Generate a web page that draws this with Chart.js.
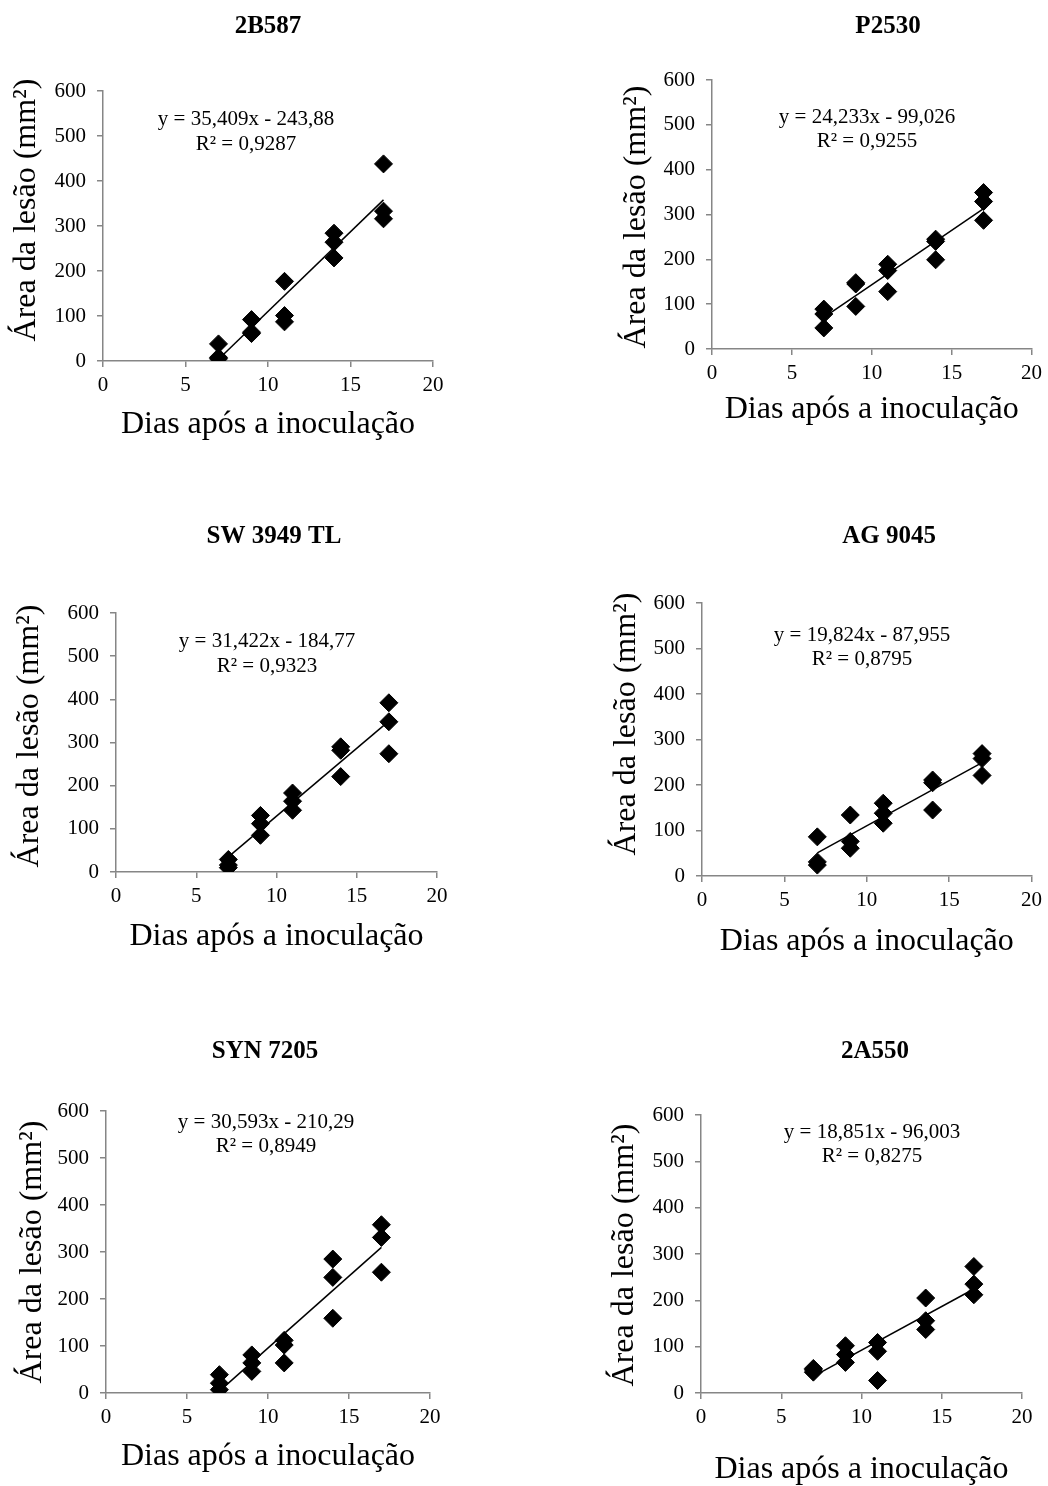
<!DOCTYPE html>
<html lang="pt-BR">
<head>
<meta charset="utf-8">
<title>Área da lesão x dias após a inoculação</title>
<script src="https://cdn.jsdelivr.net/npm/chart.js@4.4.1/dist/chart.umd.min.js"></script>
<style>
  html, body { margin: 0; padding: 0; background: #fff; }
  #wrap { position: relative; width: 1048px; height: 1486px; }
  #wrap canvas { position: absolute; }
</style>
</head>
<body>
<div id="wrap"></div>
<script>
// Dados (3 repetições por data)
const days = [7, 7, 7, 9, 9, 9, 11, 11, 11, 14, 14, 14, 17, 17, 17]
const area2B587 = [38, 8, 5, 92, 64, 61, 177, 101, 87, 284, 264, 229, 438, 333, 316]
const areaP2530 = [89, 78, 47, 148, 145, 95, 189, 175, 128, 245, 240, 199, 349, 329, 287]
const areaSW3949 = [29, 16, 10, 131, 112, 85, 183, 164, 143, 290, 282, 221, 392, 348, 274]
const areaAG9045 = [86, 31, 24, 134, 76, 61, 160, 138, 116, 211, 205, 145, 269, 258, 221]
const areaSYN7205 = [39, 21, 7, 81, 64, 46, 112, 102, 64, 285, 246, 159, 358, 331, 257]
const area2A550 = [53, 50, 45, 102, 83, 66, 109, 90, 27, 205, 156, 137, 273, 235, 212]

const cultivars = ["2B587", "P2530", "SW 3949 TL", "AG 9045", "SYN 7205", "2A550"]
const series = [area2B587, areaP2530, areaSW3949, areaAG9045, areaSYN7205, area2A550]

// Equações das retas de tendência
const slopes = [35.409, 24.233, 31.422, 19.824, 30.593, 18.851]
const intercepts = [-243.88, -99.026, -184.77, -87.955, -210.29, -96.003]
const equationLabels = [
  "y = 35,409x - 243,88",
  "y = 24,233x - 99,026",
  "y = 31,422x - 184,77",
  "y = 19,824x - 87,955",
  "y = 30,593x - 210,29",
  "y = 18,851x - 96,003",
]
const r2Labels = ["R² = 0,9287", "R² = 0,9255", "R² = 0,9323", "R² = 0,8795", "R² = 0,8949", "R² = 0,8275"]

const xTicks = [0, 5, 10, 15, 20]
const yTicks = [0, 100, 200, 300, 400, 500, 600]
const xTitle = "Dias após a inoculação"
const yTitle = "Área da lesão (mm²)"

// Posição de cada painel na página
const panels = [
  { box: [0, 0, 524, 500], area: [103, 91, 433, 361], yTitle: [27, 210], xTitleY: 425, title: [268, 27], eq: [246, 119, 144] },
  { box: [524, 0, 524, 500], area: [712, 80, 1037, 349], yTitle: [637, 217], xTitleY: 410, title: [888, 27], eq: [867, 117, 141] },
  { box: [0, 500, 524, 500], area: [116, 613, 437, 872], yTitle: [30, 736], xTitleY: 937, title: [274, 537], eq: [267, 641, 666] },
  { box: [524, 500, 524, 500], area: [702, 603, 1033, 876], yTitle: [627, 724], xTitleY: 942, title: [889, 537], eq: [862, 635, 659] },
  { box: [0, 1000, 524, 486], area: [106, 1111, 430, 1393], yTitle: [33, 1252], xTitleY: 1457, title: [265, 1052], eq: [266, 1122, 1146] },
  { box: [524, 1000, 524, 486], area: [701, 1115, 1022, 1393], yTitle: [625, 1255], xTitleY: 1470, title: [875, 1052], eq: [872, 1132, 1156] },
]

const SERIF = "'Liberation Serif', 'Times New Roman', serif"
const AXIS_COLOR = "#868686"
const AXIS_TITLE_SIZE = 32

Chart.defaults.font.family = SERIF
Chart.defaults.color = "#000"

const charts = []

document.addEventListener("DOMContentLoaded", () => {
  panels.forEach((p, i) => createPanel(i))
})

function createPanel(i) {
  const p = panels[i]
  const [cx, cy, cw, ch] = p.box
  const [L, T, R, B] = p.area

  const canvas = document.createElement("canvas")
  canvas.width = cw
  canvas.height = ch
  canvas.style.left = cx + "px"
  canvas.style.top = cy + "px"
  canvas.style.width = cw + "px"
  canvas.style.height = ch + "px"
  document.getElementById("wrap").appendChild(canvas)

  // medidas para posicionar a área do gráfico
  const half = AXIS_TITLE_SIZE / 2
  const padLeft = p.yTitle[0] - cx - half
  const yWidth = L - cx - padLeft
  const xHeight = p.xTitleY - B + half
  const padBottom = Math.max(cy + ch - B - xHeight, 0)

  const points = days.map((d, k) => ({ x: d, y: series[i][k] }))
  const xMin = Math.min(...days)
  const xMax = Math.max(...days)
  const trend = [xMin, xMax].map((d) => ({ x: d, y: slopes[i] * d + intercepts[i] }))

  // título, equação e rótulo do eixo y
  const panelText = {
    id: "panelText",
    afterDraw(chart) {
      const ctx = chart.ctx
      ctx.save()
      ctx.fillStyle = "#000"
      ctx.textAlign = "center"
      ctx.textBaseline = "middle"
      ctx.font = `bold 25px ${SERIF}`
      ctx.fillText(cultivars[i], p.title[0] - cx, p.title[1] - cy)
      ctx.font = `21px ${SERIF}`
      ctx.fillText(equationLabels[i], p.eq[0] - cx, p.eq[1] - cy)
      ctx.fillText(r2Labels[i], p.eq[0] - cx, p.eq[2] - cy)
      ctx.translate(p.yTitle[0] - cx, p.yTitle[1] - cy)
      ctx.rotate(-Math.PI / 2)
      ctx.font = `${AXIS_TITLE_SIZE}px ${SERIF}`
      ctx.fillText(yTitle, 0, 0)
      ctx.restore()
    },
  }

  charts[i] = new Chart(canvas.getContext("2d"), {
    type: "scatter",
    data: {
      datasets: [
        {
          type: "line",
          label: "Tendência",
          data: trend,
          borderColor: "#000",
          borderWidth: 1.5,
          pointRadius: 0,
          fill: false,
          order: 0,
        },
        {
          label: cultivars[i],
          data: points,
          pointStyle: "rectRot",
          pointRadius: 9,
          backgroundColor: "#000",
          borderColor: "#000",
          borderWidth: 1,
          order: 1,
        },
      ],
    },
    options: {
      responsive: false,
      animation: false,
      layout: {
        padding: { left: padLeft, top: T - cy, right: cx + cw - R, bottom: padBottom },
      },
      plugins: {
        legend: { display: false },
        tooltip: { enabled: false },
      },
      scales: {
        x: {
          type: "linear",
          min: xTicks[0],
          max: xTicks[xTicks.length - 1],
          afterBuildTicks: (axis) => {
            axis.ticks = xTicks.map((v) => ({ value: v }))
          },
          afterFit: (scale) => {
            scale.height = xHeight
          },
          border: { display: true, color: AXIS_COLOR, width: 1.5 },
          grid: { display: true, drawOnChartArea: false, drawTicks: true, tickLength: 6, color: AXIS_COLOR, lineWidth: 1.5 },
          ticks: { font: { size: 21 }, padding: 6, color: "#000" },
          title: {
            display: true,
            text: xTitle,
            font: { size: AXIS_TITLE_SIZE, lineHeight: 1 },
            padding: 0,
            color: "#000",
          },
        },
        y: {
          type: "linear",
          min: yTicks[0],
          max: yTicks[yTicks.length - 1],
          afterBuildTicks: (axis) => {
            axis.ticks = yTicks.map((v) => ({ value: v }))
          },
          afterFit: (scale) => {
            scale.width = yWidth
          },
          border: { display: true, color: AXIS_COLOR, width: 1.5 },
          grid: { display: true, drawOnChartArea: false, drawTicks: true, tickLength: 6, color: AXIS_COLOR, lineWidth: 1.5 },
          ticks: { font: { size: 21 }, padding: 11, color: "#000" },
          title: { display: false },
        },
      },
    },
    plugins: [panelText],
  })
}
</script>
</body>
</html>
